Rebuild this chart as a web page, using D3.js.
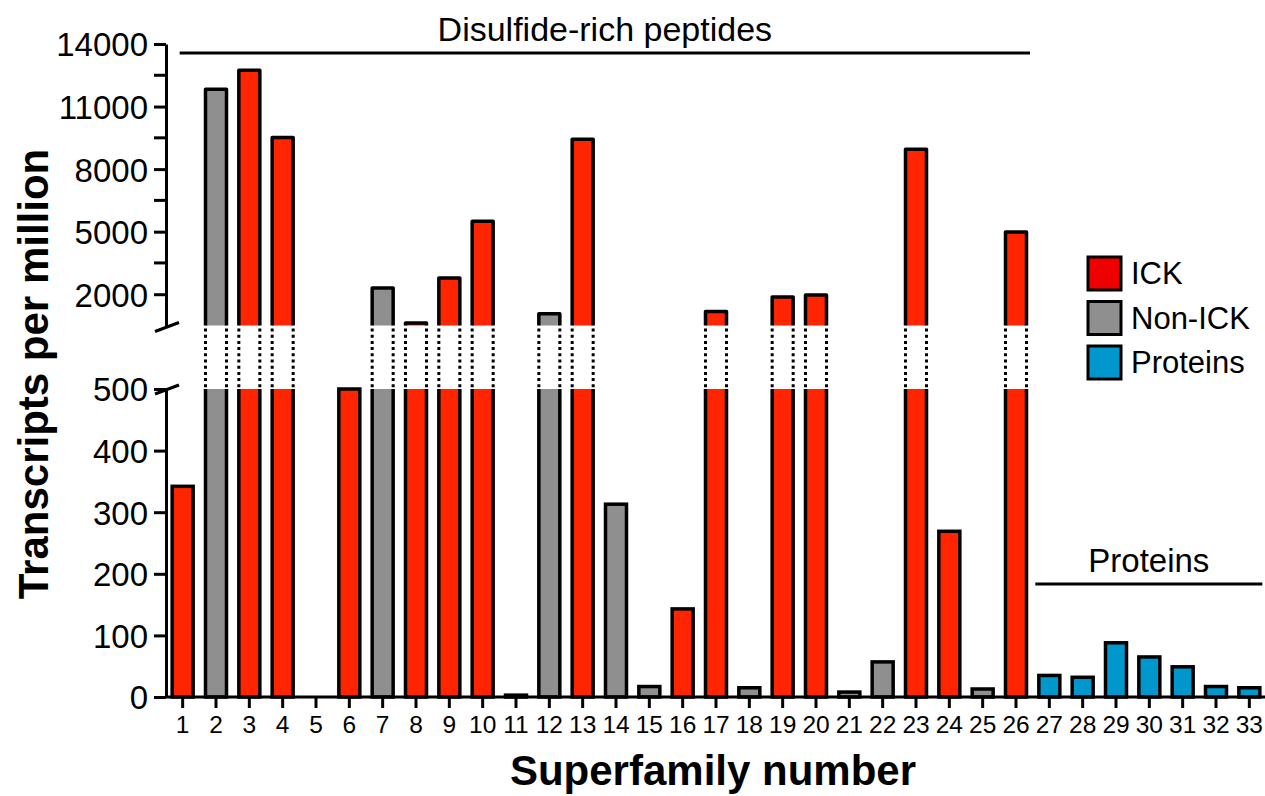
<!DOCTYPE html>
<html>
<head>
<meta charset="utf-8">
<script src="https://cdn.jsdelivr.net/npm/d3@7"></script>
<style>
  body { margin: 0; background: #fff; }
  text { font-family: "Liberation Sans", Arial, sans-serif; fill: #000; }
</style>
</head>
<body>
<div id="chart"></div>
<script>
// superfamily numbers, values (TPM) and group of each bar
const families = d3.range(1, 34);
const tpm = [342, 11830, 12740, 9520, 0, 500, 2300, 620, 2780, 5500, 3, 1060, 9430, 313, 17, 143,
  1170, 15, 1870, 1960, 8, 57, 8950, 269, 13, 4980, 35, 32, 88, 65, 49, 17, 15];
const groups = ['ICK', 'Non-ICK', 'ICK', 'ICK', 'ICK', 'ICK', 'Non-ICK', 'ICK', 'ICK', 'ICK',
  'Non-ICK', 'Non-ICK', 'ICK', 'Non-ICK', 'Non-ICK', 'ICK', 'ICK', 'Non-ICK', 'ICK', 'ICK',
  'Non-ICK', 'Non-ICK', 'ICK', 'ICK', 'Non-ICK', 'ICK',
  'Proteins', 'Proteins', 'Proteins', 'Proteins', 'Proteins', 'Proteins', 'Proteins'];
const legendNames = ['ICK', 'Non-ICK', 'Proteins'];
const lowTicks = [0, 100, 200, 300, 400, 500];
const highTicks = [2000, 5000, 8000, 11000, 14000];
const highMinor = [3500, 6500, 9500, 12500];

const width = 1265;
const height = 796;
const breakValue = 500;
const sw = 3.5;

const color = d3.scaleOrdinal()
  .domain(legendNames)
  .range(['#ff2500', '#8f8f8f', '#0098cc']);
const legendColor = d3.scaleOrdinal()
  .domain(legendNames)
  .range(['#ee0000', '#8f8f8f', '#0098cc']);

const svg = d3.select('#chart')
  .append('svg')
  .attr('width', width)
  .attr('height', height);

const x = d3.scaleBand()
  .domain(families)
  .range([166, 1266])
  .paddingInner(0.37)
  .paddingOuter(0.185);

const yLow = d3.scaleLinear().domain([0, breakValue]).range([697, 389]);
const yHigh = d3.scaleLinear().domain([breakValue, 14000]).range([325.5, 44]);

const rows = families.map((f, i) => ({ f: f, v: tpm[i], g: groups[i] }));

// bars
const bar = svg.append('g')
  .selectAll('g')
  .data(rows.filter(d => d.v > 0))
  .enter()
  .append('g');

bar.each(function (d) {
  const g = d3.select(this);
  const x0 = x(d.f);
  const x1 = x0 + x.bandwidth();
  const lowTop = yLow(Math.min(d.v, breakValue));
  g.append('rect')
    .attr('x', x0).attr('y', lowTop)
    .attr('width', x.bandwidth()).attr('height', yLow(0) - lowTop)
    .attr('fill', color(d.g));
  if (d.v <= breakValue) {
    g.append('rect')
      .attr('x', x0).attr('y', lowTop)
      .attr('width', x.bandwidth()).attr('height', yLow(0) - lowTop)
      .attr('fill', 'none').attr('stroke', '#000').attr('stroke-width', sw);
    return;
  }
  g.append('path')
    .attr('d', `M${x0},${lowTop}V${yLow(0)}H${x1}V${lowTop}`)
    .attr('fill', 'none').attr('stroke', '#000').attr('stroke-width', sw);
  const top = yHigh(d.v);
  const bottom = yHigh(breakValue);
  g.append('rect')
    .attr('x', x0).attr('y', top)
    .attr('width', x.bandwidth()).attr('height', bottom - top)
    .attr('fill', color(d.g));
  g.append('path')
    .attr('d', `M${x0},${bottom}V${top}H${x1}V${bottom}`)
    .attr('fill', 'none').attr('stroke', '#000').attr('stroke-width', sw)
    .attr('stroke-linejoin', 'round');
  [x0, x1].forEach(xx => {
    g.append('line')
      .attr('x1', xx).attr('x2', xx)
      .attr('y1', bottom + 3).attr('y2', lowTop)
      .attr('stroke', '#000').attr('stroke-width', 3)
      .attr('stroke-dasharray', '3,3.2');
  });
});

// axes
const axisStyle = sel => {
  sel.select('.domain').attr('stroke-width', 3);
  sel.selectAll('.tick line').attr('stroke-width', 3);
  sel.selectAll('.tick text').attr('font-family', '"Liberation Sans", Arial, sans-serif');
};

svg.append('g')
  .attr('transform', 'translate(166,0)')
  .call(d3.axisLeft(yLow).tickValues(lowTicks).tickFormat(d3.format('d'))
    .tickSize(12).tickPadding(6).tickSizeOuter(0))
  .call(axisStyle)
  .call(g => g.selectAll('.tick text').attr('font-size', 33).attr('dy', '0.36em'));

svg.append('g')
  .attr('transform', 'translate(166,0)')
  .call(d3.axisLeft(yHigh).tickValues(highTicks).tickFormat(d3.format('d'))
    .tickSize(12).tickPadding(6).tickSizeOuter(0))
  .call(axisStyle)
  .call(g => g.selectAll('.tick text').attr('font-size', 33).attr('dy', '0.36em'));

svg.append('g')
  .attr('transform', 'translate(166,0)')
  .selectAll('line')
  .data(highMinor)
  .enter()
  .append('line')
  .attr('x1', -12).attr('x2', 0)
  .attr('y1', d => yHigh(d)).attr('y2', d => yHigh(d))
  .attr('stroke', '#000').attr('stroke-width', 3);

// break marks on the y axis
[yHigh(breakValue) + 1, yLow(breakValue)].forEach(yy => {
  svg.append('line')
    .attr('x1', 155).attr('y1', yy + 5)
    .attr('x2', 179).attr('y2', yy - 4)
    .attr('stroke', '#000').attr('stroke-width', 3);
});

svg.append('g')
  .attr('transform', `translate(0,${yLow(0)})`)
  .call(d3.axisBottom(x).tickSize(11).tickPadding(8).tickSizeOuter(0))
  .call(axisStyle)
  .call(g => g.select('.domain').attr('d', 'M166,0H1266'))
  .call(g => g.selectAll('.tick text').attr('font-size', 24.5));

// axis titles
svg.append('text')
  .attr('transform', 'translate(48,374) rotate(-90)')
  .attr('text-anchor', 'middle')
  .attr('font-size', 42)
  .attr('font-weight', 'bold')
  .text('Transcripts per million');

svg.append('text')
  .attr('x', 713).attr('y', 785)
  .attr('text-anchor', 'middle')
  .attr('font-size', 42)
  .attr('font-weight', 'bold')
  .text('Superfamily number');

// group brackets
const groupLines = [
  { label: 'Disulfide-rich peptides', from: 1, to: 26, y: 53, x0: -3, x1: 14, size: 34 },
  { label: 'Proteins', from: 27, to: 33, y: 584, x0: -14, x1: 13, size: 33 }
];
groupLines.forEach(gl => {
  const a = x(gl.from) + x.bandwidth() / 2 + gl.x0;
  const b = x(gl.to) + x.bandwidth() / 2 + gl.x1;
  svg.append('line')
    .attr('x1', a).attr('x2', b).attr('y1', gl.y).attr('y2', gl.y)
    .attr('stroke', '#000').attr('stroke-width', 3);
  svg.append('text')
    .attr('x', (a + b) / 2).attr('y', gl.y - 12)
    .attr('text-anchor', 'middle')
    .attr('font-size', gl.size)
    .text(gl.label);
});

// legend
const legend = svg.append('g')
  .attr('transform', 'translate(1088,257)')
  .selectAll('g')
  .data(legendNames)
  .enter()
  .append('g')
  .attr('transform', (d, i) => `translate(0,${i * 44.5})`);

legend.append('rect')
  .attr('width', 33).attr('height', 33)
  .attr('fill', d => legendColor(d))
  .attr('stroke', '#000').attr('stroke-width', 3);

legend.append('text')
  .attr('x', 43).attr('y', 27)
  .attr('font-size', 31)
  .text(d => d);
</script>
</body>
</html>
